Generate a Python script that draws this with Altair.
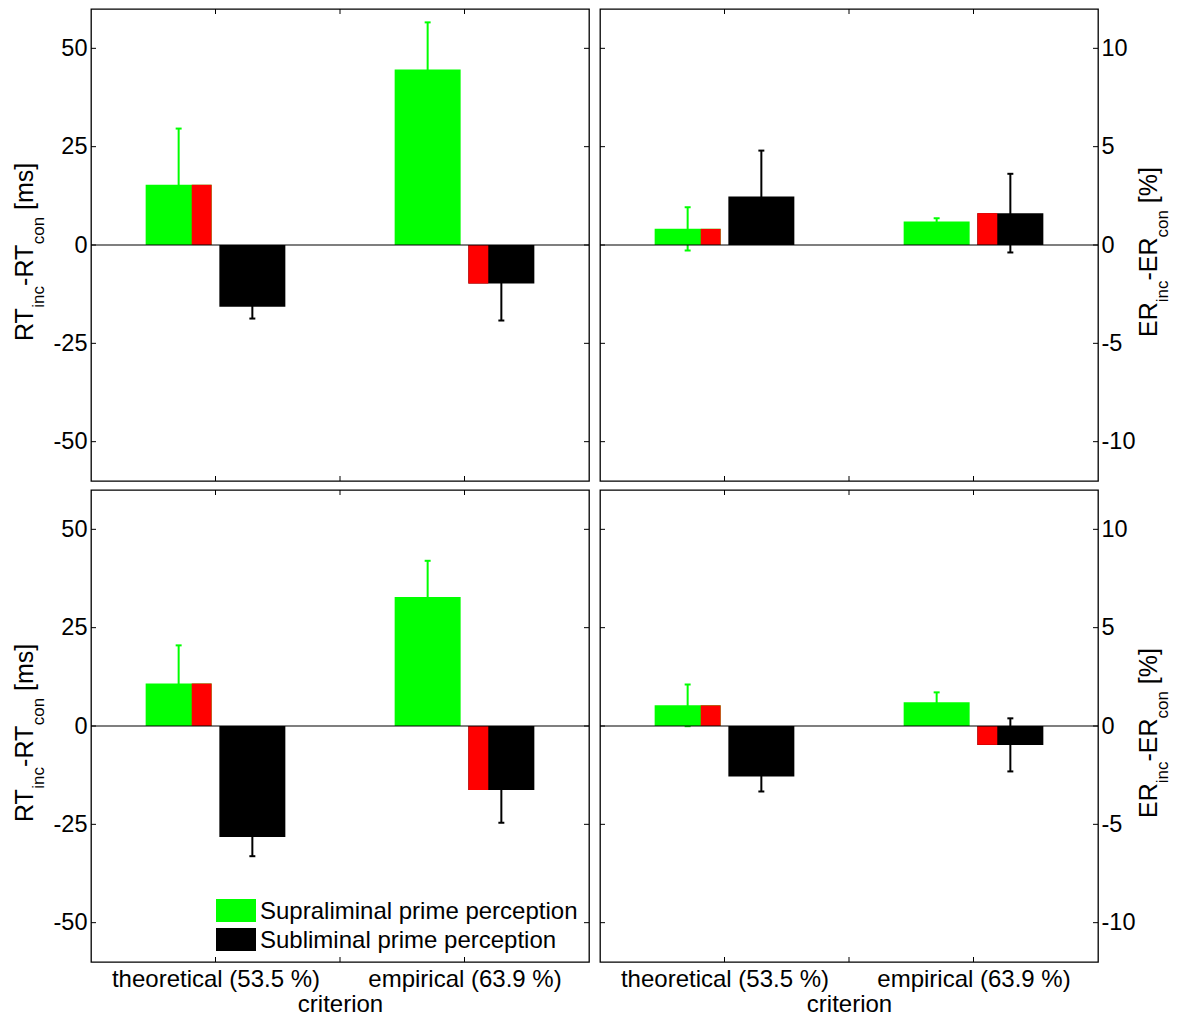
import altair as alt
import pandas as pd

FONT = "Liberation Sans"

criteria = ["theoretical (53.5 %)", "empirical (63.9 %)"]
series_names = ["Supraliminal prime perception", "Subliminal prime perception"]
series_colors = ["#00ff00", "#000000"]

# upper row: reaction-time and error-rate effects
rt1_supra = [15.3, 44.6]
rt1_supra_err = [14.3, 12.0]
rt1_sub = [-15.7, -9.8]
rt1_sub_err = [3.0, 9.4]
er1_supra = [0.82, 1.20]
er1_supra_err = [1.10, 0.16]
er1_sub = [2.46, 1.62]
er1_sub_err = [2.34, 2.00]

# lower row
rt2_supra = [10.8, 32.8]
rt2_supra_err = [9.7, 9.2]
rt2_sub = [-28.2, -16.3]
rt2_sub_err = [4.9, 8.3]
er2_supra = [1.05, 1.21]
er2_supra_err = [1.06, 0.50]
er2_sub = [-2.57, -0.96]
er2_sub_err = [0.76, 1.35]

# series carrying the red marker inside each criterion group
highlight = ["Supraliminal prime perception", "Subliminal prime perception"]

rt_ticks = [-50, -25, 0, 25, 50]
er_ticks = [-10, -5, 0, 5, 10]
x_ticks = [1, 1.5, 2]

# layout constants
W, H = 498, 472
GROUP_OFFSET = 0.148
BAR_W = 0.265
MARK_W = 0.08
CAP_W = 0.024
TICK_SIZE = 23.5
LABEL_SIZE = 24
TITLE_SIZE = 25
SUB_SIZE = 17

color_scale = alt.Scale(domain=series_names, range=series_colors)


def bar_tables(supra, supra_err, sub, sub_err):
    rows, red_rows = [], []
    for gi, crit in enumerate(criteria):
        for si, (name, vals, errs) in enumerate(
            zip(series_names, [supra, sub], [supra_err, sub_err])
        ):
            center = gi + 1 + (-1 if si == 0 else 1) * GROUP_OFFSET
            v, e = vals[gi], errs[gi]
            rows.append(dict(criterion=crit, series=name, x=center,
                             x0=center - BAR_W / 2, x1=center + BAR_W / 2,
                             value=v, lo=v - e, hi=v + e,
                             c0=center - CAP_W / 2, c1=center + CAP_W / 2))
            if highlight[gi] == name:
                if si == 0:
                    r0, r1 = center + BAR_W / 2 - MARK_W, center + BAR_W / 2
                else:
                    r0, r1 = center - BAR_W / 2, center - BAR_W / 2 + MARK_W
                red_rows.append(dict(criterion=crit, x0=r0, x1=r1, value=v))
    return pd.DataFrame(rows), pd.DataFrame(red_rows)


ADV = {"R": .722, "T": .611, "E": .667, "i": .222, "n": .556, "c": .5,
       "o": .556, "-": .333, " ": .278, "[": .278, "]": .278, "m": .833,
       "s": .5, "%": .889}


def title_layers(parts, base_x, sub_x, bottom_y):
    """Rotated axis title with subscripts, built from text segments."""
    layers = []
    y = bottom_y
    for text, is_sub in parts:
        size = SUB_SIZE if is_sub else TITLE_SIZE
        if text.strip():
            layers.append(
                alt.Chart(pd.DataFrame({"s": [text]}))
                .mark_text(angle=270, align="left", baseline="alphabetic",
                           fontSize=size, font=FONT, color="black")
                .encode(text="s:N", x=alt.value(sub_x if is_sub else base_x),
                        y=alt.value(y))
            )
        y -= sum(ADV[ch] for ch in text) * size
    return layers


def legend_layers(x0, y0, sw, sh, step, gap):
    """Legend box entries: colour patch plus label for each series."""
    layers = []
    for i, (name, col) in enumerate(zip(series_names, series_colors)):
        top = y0 + i * step
        layers.append(
            alt.Chart(pd.DataFrame({"s": [name]})).mark_rect(color=col).encode(
                x=alt.value(x0), x2=alt.value(x0 + sw),
                y=alt.value(top), y2=alt.value(top + sh))
        )
        layers.append(
            alt.Chart(pd.DataFrame({"s": [name]}))
            .mark_text(align="left", baseline="middle", fontSize=LABEL_SIZE,
                       font=FONT, color="black")
            .encode(text="s:N", x=alt.value(x0 + sw + gap),
                    y=alt.value(top + sh / 2 + 1))
        )
    return layers


MINUS_FIX = "replace(datum.label, '\u2212', '-')"


def panel(df, red_df, ticks, dom, side, bottom, title_parts, with_legend):
    xscale = alt.Scale(domain=[0.5, 2.5], nice=False, zero=False)
    yscale = alt.Scale(domain=[-dom, dom], nice=False, zero=False)
    if bottom:
        xaxis = alt.Axis(
            values=[1, 2],
            labelExpr=f"datum.value == 1 ? '{criteria[0]}' : '{criteria[1]}'",
            tickSize=0, domain=False, grid=False, labelLimit=600,
            labelFontSize=LABEL_SIZE, labelFont=FONT, labelColor="black",
            labelPadding=5, labelFlush=False,
            title="criterion", titleFontSize=LABEL_SIZE, titleFont=FONT,
            titleFontWeight="normal", titleColor="black", titlePadding=1,
        )
    else:
        xaxis = None
    yaxis = alt.Axis(
        values=ticks, orient=side, tickSize=0, domain=False, grid=False,
        labelFontSize=TICK_SIZE, labelFont=FONT, labelColor="black",
        labelPadding=4 if side == "left" else 3, title=None,
        labelExpr=MINUS_FIX,
    )

    def X(f):
        return alt.X(f, type="quantitative", scale=xscale, axis=xaxis)

    def Y(f):
        return alt.Y(f, type="quantitative", scale=yscale, axis=yaxis)

    stroke = alt.Stroke("series:N", scale=color_scale, legend=None)

    err = alt.Chart(df).mark_rule(strokeWidth=2).encode(
        x=X("x"), y=Y("lo"), y2="hi", stroke=stroke)
    cap_hi = alt.Chart(df).mark_rule(strokeWidth=2).encode(
        x=X("c0"), x2="c1", y=Y("hi"), stroke=stroke)
    cap_lo = alt.Chart(df).mark_rule(strokeWidth=2).encode(
        x=X("c0"), x2="c1", y=Y("lo"), stroke=stroke)
    bars = alt.Chart(df).mark_rect().encode(
        x=X("x0"), x2="x1", y=Y("value"), y2=alt.datum(0),
        color=alt.Color("series:N", scale=color_scale, legend=None))
    red = alt.Chart(red_df).mark_rect(color="#ff0000").encode(
        x=X("x0"), x2="x1", y=Y("value"), y2=alt.datum(0))
    zero = alt.Chart(pd.DataFrame({"v": [0]})).mark_rule(
        color="black", strokeWidth=1.2).encode(
        y=Y("v"), x=alt.value(0), x2=alt.value(W))
    tick_df = pd.DataFrame({"t": ticks})
    yt_l = alt.Chart(tick_df).mark_rule(color="black", strokeWidth=1).encode(
        y=Y("t"), x=alt.value(0), x2=alt.value(5))
    yt_r = alt.Chart(tick_df).mark_rule(color="black", strokeWidth=1).encode(
        y=Y("t"), x=alt.value(W - 5), x2=alt.value(W))
    xt_df = pd.DataFrame({"t": x_ticks})
    xt_t = alt.Chart(xt_df).mark_rule(color="black", strokeWidth=1).encode(
        x=X("t"), y=alt.value(0), y2=alt.value(5))
    xt_b = alt.Chart(xt_df).mark_rule(color="black", strokeWidth=1).encode(
        x=X("t"), y=alt.value(H - 5), y2=alt.value(H))

    if side == "left":
        titles = title_layers(title_parts, -58, -47, H / 2 + 96)
    else:
        titles = title_layers(title_parts, W + 59, W + 70, H / 2 + 92)

    extra = legend_layers(125, 409, 40, 23, 29, 4) if with_legend else []

    return alt.layer(err, cap_hi, cap_lo, bars, red, zero,
                     yt_l, yt_r, xt_t, xt_b, *titles, *extra).properties(
        width=W, height=H)


rt_title = [("RT", False), ("inc", True), ("-RT", False), ("con", True),
            (" ", False), ("[ms]", False)]
er_title = [("ER", False), ("inc", True), ("-ER", False), ("con", True),
            (" ", False), ("[%]", False)]

d1, r1 = bar_tables(rt1_supra, rt1_supra_err, rt1_sub, rt1_sub_err)
d2, r2 = bar_tables(er1_supra, er1_supra_err, er1_sub, er1_sub_err)
d3, r3 = bar_tables(rt2_supra, rt2_supra_err, rt2_sub, rt2_sub_err)
d4, r4 = bar_tables(er2_supra, er2_supra_err, er2_sub, er2_sub_err)

tl = panel(d1, r1, rt_ticks, 60, "left", False, rt_title, False)
tr = panel(d2, r2, er_ticks, 12, "right", False, er_title, False)
bl = panel(d3, r3, rt_ticks, 60, "left", True, rt_title, True)
br = panel(d4, r4, er_ticks, 12, "right", True, er_title, False)

chart = (
    alt.concat(tl, tr, bl, br, columns=2, spacing={"row": 5, "column": 7},
               align="each")
    .properties(padding={"left": 12, "top": 7, "right": 5, "bottom": 5},
                background="white")
    .configure(font=FONT)
    .configure_view(stroke="black", strokeWidth=1.3)
)

chart.save("out.html", embed_options={"renderer": "svg", "actions": False})
